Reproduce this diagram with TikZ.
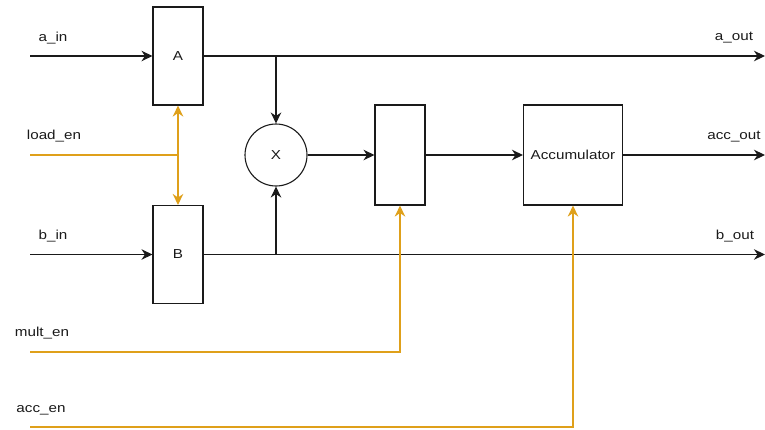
\documentclass[tikz,border=0pt]{standalone}
\usepackage{fontspec}
\setmainfont[FakeStretch=1.17]{Liberation Sans}
\usetikzlibrary{arrows.meta}
\definecolor{ctrl}{HTML}{DFA01A}
\definecolor{ink}{HTML}{1A1A1A}
\begin{document}
\begin{tikzpicture}[x=1pt,y=-1pt,
  txt/.style={font=\fontsize{13}{15}\selectfont, text=ink},
  blk/.style={txt, draw=ink, line width=1.1pt, inner sep=0pt},
  reg/.style={blk, minimum width=50pt, minimum height=98pt},
  tipshape/.tip={Stealth[length=11pt,width=10.5pt,inset=3.5pt]},
  sig/.style={draw=ink, line width=1.1pt, -tipshape},
  ctl/.style={draw=ctrl, line width=1.3pt},
  ctlarrow/.style={ctl, -tipshape},
  lbl/.style={txt, inner sep=0pt}
]
\useasboundingbox (0,0) rectangle (765,429);

% registers, multiplier and accumulator
\node[reg] (A) at (178,56) {A};
\node[reg] (B) at (178,254.5) {B};
\node[blk, circle, minimum size=62pt] (X) at (276,155) {X};
\node[blk, minimum width=50pt, minimum height=100pt] (P) at (400,155) {};
\node[blk, minimum width=99pt, minimum height=100pt] (ACC) at (573,155) {Accumulator};

% ports and junctions
\coordinate (ain) at (30,56);
\coordinate (bin) at (30,254.5);
\coordinate (loadin) at (30,155);
\coordinate (multin) at (30,352);
\coordinate (accin) at (30,427);
\coordinate (aout) at (765,56);
\coordinate (bout) at (765,254.5);
\coordinate (accout) at (765,155);
\coordinate (ja) at (276,56);
\coordinate (jb) at (276,254.5);
\coordinate (jl) at (178,155);

% data path
\draw[sig] (ain) -- (A.west);
\draw[sig] (bin) -- (B.west);
\draw[sig] (A.east) -- (aout);
\draw[sig] (B.east) -- (bout);
\draw[sig] (ja) -- (X.north);
\draw[sig] (jb) -- (X.south);
\draw[sig] (X.east) -- (P.west);
\draw[sig] (P.east) -- (ACC.west);
\draw[sig] (ACC.east) -- (accout);

% control signals
\draw[ctl] (loadin) -- (jl);
\draw[ctl, tipshape-tipshape] (A.south) -- (B.north);
\draw[ctlarrow] (multin) -| (P.south);
\draw[ctlarrow] (accin) -| (ACC.south);

% signal names
\node[lbl] at (53,38) {a\_in};
\node[lbl] at (54,136) {load\_en};
\node[lbl] at (53,236) {b\_in};
\node[lbl] at (42,333) {mult\_en};
\node[lbl] at (41,410) {acc\_en};
\node[lbl] at (734,38) {a\_out};
\node[lbl] at (734,137) {acc\_out};
\node[lbl] at (735,236) {b\_out};
\end{tikzpicture}
\end{document}
